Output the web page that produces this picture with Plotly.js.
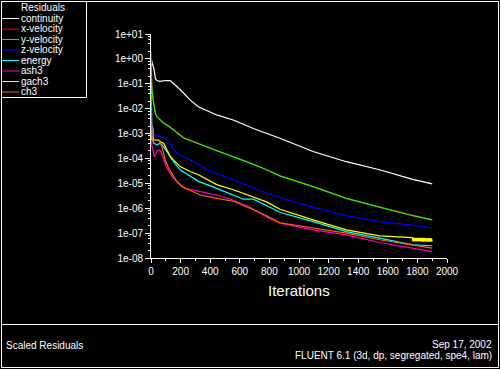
<!DOCTYPE html>
<html>
<head>
<meta charset="utf-8">
<script src="https://cdn.plot.ly/plotly-3.0.1.min.js"></script>
<style>
  html, body { margin: 0; padding: 0; background: #000; }
  #chart { width: 500px; height: 369px; }
</style>
</head>
<body>
<div id="chart"></div>
<script>
// ---- Data ----
const seriesNames = ["continuity", "x-velocity", "y-velocity", "z-velocity", "energy", "ash3", "gach3", "ch3"];
const seriesColors = ["#ffffff", "#ff0000", "#00ff00", "#0000ff", "#00ffff", "#ff00c8", "#ffff00", "#ff6400"];

const iterContinuity = [1, 5, 10, 20, 30, 40, 60, 100, 130, 150, 200, 265, 320, 444, 556, 691, 871, 1095, 1320, 1544, 1768, 1900];
const resContinuity  = [1.0, 7.0e-1, 6.3e-1, 4.0e-1, 1.6e-1, 1.35e-1, 1.25e-1, 1.35e-1, 1.35e-1, 1.05e-1, 5.6e-2, 2.2e-2, 1.2e-2, 5.6e-3, 3.5e-3, 1.6e-3, 6.5e-4, 1.9e-4, 7.4e-5, 3.5e-5, 1.45e-5, 9.5e-6];

const iterVelocity = [1, 5, 13, 22, 29, 40, 63, 85, 108, 141, 152, 220, 287, 332, 444, 556, 670, 781, 871, 1095, 1320, 1544, 1768, 1900];
const resXVelocity = [2.0, 1.0e-1, 2.7e-2, 1.25e-2, 6.8e-3, 5.0e-3, 3.6e-3, 2.7e-3, 2.25e-3, 1.65e-3, 1.45e-3, 7.0e-4, 4.8e-4, 3.5e-4, 2.0e-4, 1.17e-4, 6.6e-5, 3.5e-5, 2.0e-5, 7.4e-6, 2.5e-6, 1.1e-6, 5.2e-7, 3.4e-7];
const resYVelocity = [6.5e-1, 8.0e-2, 2.6e-2, 1.2e-2, 6.6e-3, 4.8e-3, 3.5e-3, 2.6e-3, 2.2e-3, 1.6e-3, 1.4e-3, 6.6e-4, 4.7e-4, 3.5e-4, 2.0e-4, 1.17e-4, 6.5e-5, 3.5e-5, 2.0e-5, 7.4e-6, 2.5e-6, 1.1e-6, 5.0e-7, 3.4e-7];

const iterZVelocity = [1, 7, 29, 63, 96, 130, 164, 197, 242, 287, 332, 377, 556, 781, 871, 1095, 1320, 1544, 1768, 1900];
const resZVelocity  = [3.0e-2, 1.0e-3, 8.7e-4, 7.6e-4, 6.5e-4, 4.1e-4, 1.9e-4, 1.4e-4, 1.0e-4, 7.4e-5, 5.5e-5, 3.5e-5, 1.4e-5, 4.0e-6, 2.7e-6, 1.1e-6, 5.0e-7, 2.9e-7, 2.1e-7, 1.6e-7];

const iterEnergy = [1, 5, 13, 18, 40, 63, 85, 119, 152, 197, 265, 321, 444, 624, 691, 781, 871, 1095, 1320, 1544, 1768, 1900];
const resEnergy  = [1.1e-1, 2.0e-3, 1.6e-3, 4.1e-4, 3.5e-4, 4.1e-4, 3.0e-4, 1.4e-4, 7.4e-5, 3.5e-5, 1.9e-5, 1.2e-5, 6.3e-6, 2.3e-6, 2.3e-6, 1.26e-6, 6.9e-7, 2.9e-7, 1.15e-7, 6.3e-8, 3.4e-8, 3.1e-8];

const iterAsh3 = [1, 5, 13, 22, 40, 51, 67, 85, 108, 141, 186, 231, 332, 444, 556, 669, 781, 871, 1095, 1252, 1320, 1544, 1768, 1900];
const resAsh3  = [4.0e-2, 3.5e-4, 2.2e-4, 1.17e-4, 1.9e-4, 2.2e-4, 1.9e-4, 1.0e-4, 4.1e-5, 1.9e-5, 1.0e-5, 6.3e-6, 4.7e-6, 3.4e-6, 2.1e-6, 1.1e-6, 4.5e-7, 2.5e-7, 1.35e-7, 1.0e-7, 8.5e-8, 4.2e-8, 2.5e-8, 1.8e-8];

const iterGach3 = [1, 5, 18, 51, 63, 85, 108, 130, 152, 197, 265, 321, 444, 556, 781, 871, 1095, 1320, 1544, 1680,
  1765, 1770, 1775, 1780, 1785, 1790, 1795, 1800, 1805, 1810, 1815, 1820, 1825, 1830, 1835, 1840, 1845, 1850, 1855, 1860, 1865, 1870, 1875, 1880, 1885, 1890, 1895, 1900];
const resGach3  = [1.2e-2, 6.0e-4, 5.5e-4, 5.5e-4, 4.7e-4, 4.1e-4, 2.2e-4, 1.2e-4, 8.7e-5, 4.7e-5, 3.0e-5, 2.2e-5, 8.9e-6, 5.5e-6, 1.8e-6, 9.1e-7, 3.4e-7, 1.35e-7, 7.8e-8, 6.8e-8,
  6.6e-8, 4.7e-8, 6.6e-8, 4.7e-8, 6.5e-8, 4.6e-8, 6.5e-8, 4.6e-8, 6.5e-8, 4.6e-8, 6.4e-8, 4.6e-8, 6.4e-8, 4.5e-8, 6.4e-8, 4.5e-8, 6.4e-8, 4.5e-8, 6.3e-8, 4.5e-8, 6.3e-8, 4.5e-8, 6.3e-8, 4.5e-8, 6.3e-8, 4.5e-8, 6.2e-8, 4.6e-8];

const iterCh3 = [1, 5, 13, 18, 51, 63, 74, 96, 119, 152, 175, 209, 242, 332, 444, 556, 669, 781, 871, 1095, 1320, 1544, 1768, 1900];
const resCh3  = [3.0e-2, 8.0e-4, 4.7e-4, 5.5e-4, 5.5e-4, 4.1e-4, 3.0e-4, 8.7e-5, 4.1e-5, 1.9e-5, 1.2e-5, 7.4e-6, 6.0e-6, 3.4e-6, 2.5e-6, 1.9e-6, 1.0e-6, 5.0e-7, 2.6e-7, 1.6e-7, 1.0e-7, 5.4e-8, 3.4e-8, 2.5e-8];

const xTickVals = [0, 200, 400, 600, 800, 1000, 1200, 1400, 1600, 1800, 2000];
const xTickText = ["0", "200", "400", "600", "800", "1000", "1200", "1400", "1600", "1800", "2000"];
const yTickVals = [1e1, 1e0, 1e-1, 1e-2, 1e-3, 1e-4, 1e-5, 1e-6, 1e-7, 1e-8];
const yTickText = ["1e+01", "1e+00", "1e-01", "1e-02", "1e-03", "1e-04", "1e-05", "1e-06", "1e-07", "1e-08"];

const legendTitle = "Residuals";
const footerLeft = "Scaled Residuals";
const footerDate = "Sep 17, 2002";
const footerInfo = "FLUENT 6.1 (3d, dp, segregated, spe4, lam)";
const xTitle = "Iterations";

// ---- Build ----
const FONT = "Liberation Sans, Arial, Helvetica, sans-serif";
const L = 151, T = 34, W = 296, H = 224;
const pxX = x => (x - L) / W;
const pxY = y => (T + H - y) / H;

const xs = [iterContinuity, iterVelocity, iterVelocity, iterZVelocity, iterEnergy, iterAsh3, iterGach3, iterCh3];
const ys = [resContinuity, resXVelocity, resYVelocity, resZVelocity, resEnergy, resAsh3, resGach3, resCh3];

const traces = seriesNames.map((n, i) => ({
  type: "scatter", mode: "lines", name: n,
  x: xs[i], y: ys[i],
  line: { color: seriesColors[i], width: 1.2 },
  hoverinfo: "skip"
}));

const minorX = [];
for (let v = 100; v < 2000; v += 200) minorX.push(v);
const minorY = [];
for (let d = -8; d < 1; d++) [2, 4, 6, 8].forEach(m => minorY.push(m * Math.pow(10, d)));

const shapes = [];
const annotations = [];
const white = "#ffffff";
// outer frame
shapes.push({ type: "rect", xref: "paper", yref: "paper", x0: pxX(1.5), x1: pxX(498.5), y0: pxY(1.5), y1: pxY(367.5), line: { color: white, width: 1 } });
// legend box
shapes.push({ type: "rect", xref: "paper", yref: "paper", x0: pxX(1.5), x1: pxX(86.5), y0: pxY(1.5), y1: pxY(97.5), line: { color: white, width: 1 } });
// footer divider
shapes.push({ type: "line", xref: "paper", yref: "paper", x0: pxX(1.5), x1: pxX(498.5), y0: pxY(324.5), y1: pxY(324.5), line: { color: white, width: 1 } });

const legFont = { family: FONT, size: 10, color: white };
annotations.push({ xref: "paper", yref: "paper", x: pxX(43), y: pxY(7.5), text: legendTitle, showarrow: false, xanchor: "center", yanchor: "middle", borderpad: 0, font: legFont });
seriesNames.forEach((n, i) => {
  const yy = 18 + 10.5 * i;
  shapes.push({ type: "line", xref: "paper", yref: "paper", x0: pxX(2), x1: pxX(19), y0: pxY(yy + 0.5), y1: pxY(yy + 0.5), line: { color: seriesColors[i], width: 1 } });
  annotations.push({ xref: "paper", yref: "paper", x: pxX(19.5), y: pxY(yy), text: n, showarrow: false, xanchor: "left", yanchor: "middle", borderpad: 0, font: legFont });
});

annotations.push({ xref: "paper", yref: "paper", x: pxX(4), y: pxY(345), text: footerLeft, showarrow: false, xanchor: "left", yanchor: "middle", font: { family: FONT, size: 10, color: white } });
annotations.push({ xref: "paper", yref: "paper", x: pxX(493), y: pxY(344), text: footerDate, showarrow: false, xanchor: "right", yanchor: "middle", borderpad: 0, font: { family: FONT, size: 10, color: white } });
annotations.push({ xref: "paper", yref: "paper", x: pxX(493), y: pxY(355), text: footerInfo, showarrow: false, xanchor: "right", yanchor: "middle", borderpad: 0, font: { family: FONT, size: 10, color: white } });
annotations.push({ xref: "paper", yref: "paper", x: 0.5, y: pxY(290), text: xTitle, showarrow: false, xanchor: "center", yanchor: "middle", font: { family: FONT, size: 15, color: white } });

const layout = {
  width: 500, height: 369,
  margin: { l: L, r: 500 - L - W, t: T, b: 369 - T - H, pad: 0 },
  paper_bgcolor: "#000000", plot_bgcolor: "#000000",
  showlegend: false,
  font: { family: FONT, color: white, size: 10 },
  xaxis: {
    range: [0, 2000], tickmode: "array", tickvals: xTickVals, ticktext: xTickText,
    ticks: "outside", ticklen: 4, tickwidth: 1, tickcolor: white,
    showline: true, linecolor: white, linewidth: 1,
    showgrid: false, zeroline: false,
    tickfont: { family: FONT, size: 10, color: white },
    minor: { tickmode: "array", tickvals: minorX, ticks: "outside", ticklen: 2, tickcolor: white, showgrid: false },
    automargin: false
  },
  yaxis: {
    type: "log", range: [-8, 1], tickmode: "array", tickvals: yTickVals, ticktext: yTickText,
    ticks: "outside", ticklen: 5, tickwidth: 1, tickcolor: white,
    showline: true, linecolor: white, linewidth: 1,
    showgrid: false, zeroline: false,
    tickfont: { family: FONT, size: 10, color: white },
    minor: { tickmode: "array", tickvals: minorY, ticks: "outside", ticklen: 2.5, tickcolor: white, showgrid: false },
    automargin: false
  },
  shapes: shapes,
  annotations: annotations
};

Plotly.newPlot("chart", traces, layout, { displayModeBar: false, staticPlot: true });
</script>
</body>
</html>
